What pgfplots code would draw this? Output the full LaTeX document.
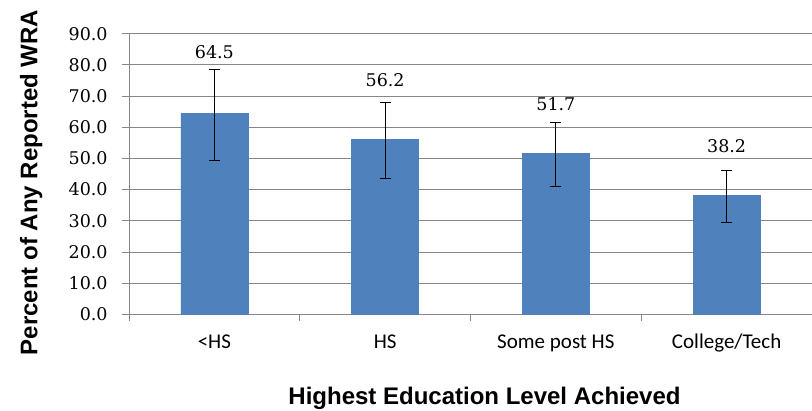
\documentclass[border=0pt]{standalone}
\usepackage{fontspec}
\setmainfont{Liberation Sans}
\newfontfamily\tickfont{DejaVu Serif}
\newfontfamily\catfont{Carlito}
\usepackage{pgfplots}
\pgfplotsset{compat=1.18}
\definecolor{barblue}{HTML}{4F81BD}
\definecolor{gridgray}{HTML}{878787}
\begin{document}
\begin{tikzpicture}
  \useasboundingbox (0,0) rectangle (812pt,411pt);
  \begin{axis}[
      at={(129pt,96.7pt)},
      anchor=south west,
      scale only axis,
      width=683pt,
      height=280.6pt,
      xmin=-0.5, xmax=3.5,
      ymin=0, ymax=90,
      ytick={0,10,...,90},
      xtick={-0.5,0.5,1.5,2.5,3.5},
      x tick label as interval,
      xticklabels={<HS,HS,Some post HS,College/Tech},
      axis x line*=bottom,
      axis y line*=left,
      axis line style={gridgray, line width=0.8pt},
      tick style={gridgray, line width=0.8pt},
      tick align=outside,
      major tick length=6.5pt,
      ymajorgrids,
      major grid style={gridgray, line width=0.8pt},
      yticklabel style={
        /pgf/number format/.cd, fixed, fixed zerofill, precision=1,
        assume math mode=true, /tikz/.cd,
        font=\tickfont\fontsize{17.5}{20}\selectfont,
        anchor=east, inner sep=0pt, xshift=-14.7pt},
      xticklabel style={font=\catfont\fontsize{21}{24}\selectfont,
        anchor=base, inner sep=0pt, yshift=-28.2pt},
      xlabel={\bfseries Highest Education Level Achieved},
      ylabel={\bfseries Percent of Any Reported WRA},
      every axis x label/.style={at={(axis description cs:0.5205,-0.3232)},
        anchor=base, font=\fontsize{24}{28}\selectfont},
      every axis y label/.style={at={(axis description cs:-0.1343,0.4697)},
        anchor=base, rotate=90, font=\fontsize{24}{28}\selectfont},
      clip=false,
    ]
    % bars with asymmetric error bars
    \addplot[ybar, bar width=67pt, fill=barblue, draw=barblue, line width=0.4pt,
      error bars/.cd, y dir=both, y explicit,
      error bar style={black, line width=0.8pt},
      error mark options={rotate=90, black, line width=0.8pt, mark size=5.5pt}]
      coordinates {
        (0,64.5) += (0,14.1) -= (0,15.0)
        (1,56.2) += (0,11.8) -= (0,12.6)
        (2,51.7) += (0,10.0) -= (0,10.6)
        (3,38.2) += (0,7.9)  -= (0,8.7)
      };
    % value labels, placed above the error bars
    \addplot[draw=none, mark=none, nodes near coords, point meta=explicit symbolic,
      nodes near coords style={anchor=base, inner sep=0pt,
        font=\tickfont\fontsize{17.5}{20}\selectfont}]
      coordinates {
        (0,82.1) [64.5]
        (1,73.0) [56.2]
        (2,65.3) [51.7]
        (3,52.0) [38.2]
      };
  \end{axis}
\end{tikzpicture}
\end{document}
